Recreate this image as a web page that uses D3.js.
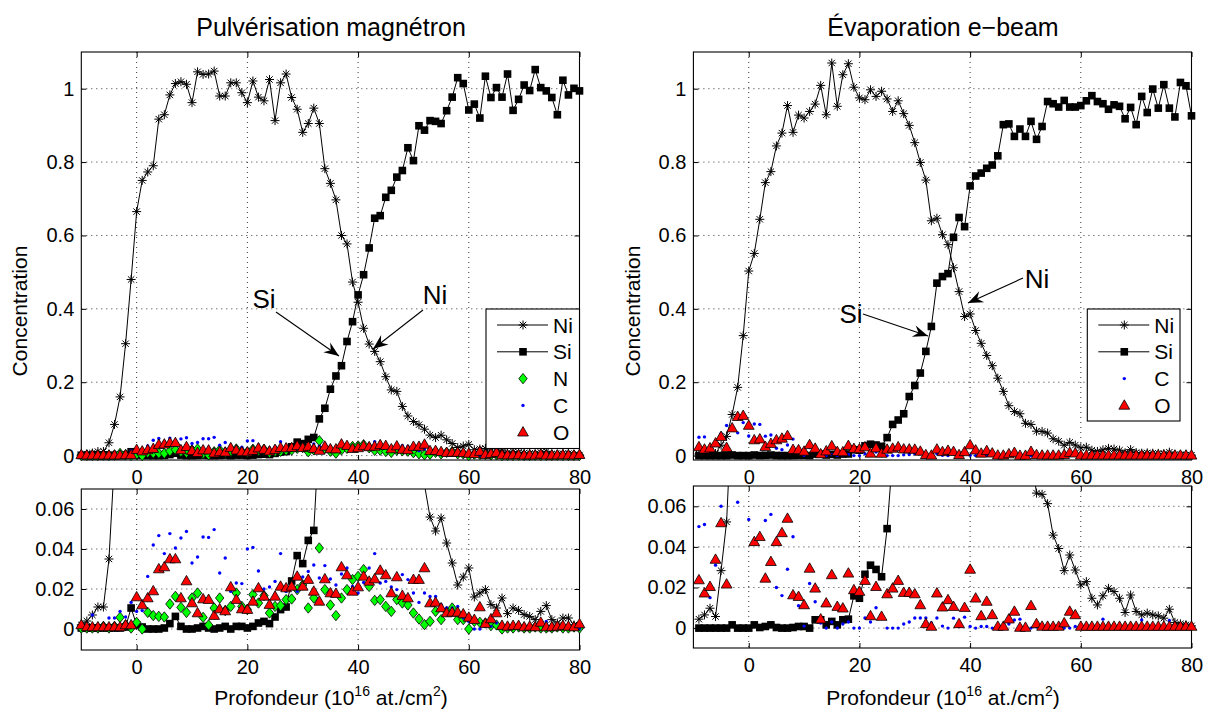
<!DOCTYPE html>
<html><head><meta charset="utf-8">
<script src="https://cdn.jsdelivr.net/npm/d3@7"></script>
<style>
body{margin:0;background:#fff}
svg{display:block}
text{font-family:"Liberation Sans",Arial,Helvetica,sans-serif;fill:#000}
</style>
</head><body>
<svg id="chart" width="1211" height="715"></svg>
<script>
// ---------------- DATA ----------------
const depthL = [-10,-9,-8,-7,-6,-5,-4,-3,-2,-1,0,1,2,3,4,5,6,7,8,9,10,11,12,13,14,15,16,17,18,19,20,21,22,23,24,25,26,27,28,29,30,31,32,33,34,35,36,37,38,39,40,41,42,43,44,45,46,47,48,49,50,51,52,53,54,55,56,57,58,59,60,61,62,63,64,65,66,67,68,69,70,71,72,73,74,75,76,77,78,79,80];
const niL = [0.002,0.004,0.007,0.011,0.011,0.035,0.085,0.16,0.305,0.48,
0.665,0.75,0.773,0.79,0.917,0.929,0.983,1.014,1.019,1.012,
0.962,1.046,1.039,1.04,1.048,0.98,0.98,1.016,1.016,0.989,
0.962,1.021,0.977,0.967,1.025,0.913,1.016,1.04,0.976,0.944,
0.881,0.905,0.947,0.905,0.782,0.742,0.697,0.6,0.577,0.473,
0.418,0.347,0.304,0.284,0.256,0.215,0.179,0.175,0.134,0.108,
0.093,0.084,0.072,0.056,0.049,0.0555,0.043,0.033,0.022,0.026,
0.0305,0.016,0.018,0.0197,0.0122,0.0105,0.0155,0.0077,0.0105,0.0093,
0.0072,0.0063,0.0047,0.0088,0.0117,0.0047,0.003,0.0055,0.0055,0.002,0.0013];
const siL = [0.0005,0.0005,0.0005,0.0005,0.0005,0.0005,0.0005,0.0005,0.001,0.0105,
0.002,0.001,0,0,0,0.0005,0.0027,0.0063,0.0013,0,
0,0.0005,0.0013,0.0005,0,0.0005,0.0013,0,0.0013,0.0013,
0.0005,0.0013,0.003,0.0038,0.0027,0.006,0.0097,0.011,0.024,0.0367,
0.0327,0.0443,0.0493,0.1,0.129,0.181,0.217,0.245,0.311,0.365,
0.438,0.493,0.566,0.647,0.654,0.704,0.723,0.759,0.777,0.839,
0.804,0.899,0.887,0.913,0.911,0.905,0.94,0.977,1.03,1.014,
0.942,0.958,0.92,1.034,0.976,1.003,0.977,1.04,0.941,0.971,
1.01,0.995,1.052,1.003,0.994,0.976,0.929,1.023,0.983,1.001,0.994];
const nL = [0.0005,0.0005,0.0005,0.0005,0.0013,0.0005,0.0013,0.0058,0.002,0.0005,
0.0033,0,0.0083,0.0067,0.0063,0.006,0.0125,0.0163,0.0108,0.0083,
0.0155,0.018,0.0058,0.002,0.0105,0.0155,0.0092,0.0113,0.018,0.0113,
0.0097,0.0172,0.013,0.0167,0.008,0.0113,0.0117,0.0147,0.015,0.0197,
0.022,0.0105,0.0155,0.0405,0.0197,0.012,0.0067,0.0155,0.0197,0.0247,
0.0263,0.0297,0.0213,0.0143,0.0147,0.0113,0.0088,0.0147,0.013,0.012,
0.008,0.005,0.0022,0.0038,0.0088,0.0047,0.0088,0.0105,0.0047,0.0047,
0,0.0038,0.0033,0.003,0.0017,0.002,0,0.0005,0.0005,0.001,
0.0005,0.0005,0.001,0.0005,0.0005,0.0005,0.001,0.0005,0.0005,0.001,0.0005];
const cL = [0.001,0.002,0.007,0.002,0.002,0.0055,0.0055,0.0088,0.006,0.0133,
0.0088,0.0092,0.0263,0.042,0.0467,0.0377,0.0477,0.0405,0.0455,0.0488,
0.033,0.036,0.046,0.0458,0.0497,0.028,0.0355,0.0188,0.023,0.0227,
0.04,0.0408,0.029,0.02,0.021,0.0238,0.0377,0.0188,0.0213,0.0188,
0.026,0.0288,0.032,0.0255,0.0317,0.025,0.022,0.0275,0.0305,0.0213,
0.018,0.0233,0.0305,0.0377,0.023,0.0238,0.021,0.0197,0.0272,0.0247,
0.018,0.0133,0.018,0.0163,0.0163,0.0122,0.0105,0.0105,0.0113,0.0055,
0.0038,0,0,0.002,0.0013,0.003,0.0005,0,0.0013,0.0013,
0.0005,0.0005,0.0005,0.0033,0.0038,0.0013,0.0005,0.0013,0.0005,0.0005,0];
const oL = [0.002,0.001,0.001,0.001,0.001,0.001,0.001,0.001,0.002,0.002,
0.016,0.012,0.0155,0.019,0.03,0.031,0.035,0.035,0.0155,0.024,
0.013,0.008,0.015,0.0147,0.0067,0.01,0.009,0.021,0.0147,0.01,
0.0097,0.0138,0.0205,0.0163,0.0122,0.0163,0.0213,0.0205,0.0213,0.0263,
0.0213,0.0247,0.0188,0.0138,0.025,0.018,0.0177,0.031,0.027,0.0188,
0.021,0.0263,0.0238,0.025,0.0293,0.027,0.018,0.026,0.0167,0.0155,
0.0247,0.0247,0.0305,0.013,0.0133,0.0105,0.008,0.0083,0.0083,0.0075,
0.0058,0.0047,0.011,0.0027,0.005,0.008,0.0017,0.0013,0.0017,0.0017,
0.001,0.0013,0.001,0.0033,0.001,0.001,0.0013,0.0017,0.0013,0.001,0.0025];

const depthR = [-9,-8,-7,-6,-5,-4,-3,-2,-1,0,1,2,3,4,5,6,7,8,9,10,11,12,13,14,15,16,17,18,19,20,21,22,23,24,25,26,27,28,29,30,31,32,33,34,35,36,37,38,39,40,41,42,43,44,45,46,47,48,49,50,51,52,53,54,55,56,57,58,59,60,61,62,63,64,65,66,67,68,69,70,71,72,73,74,75,76,77,78,79,80];
const niR = [0.0044,0.0065,0.0098,0.0057,0.0283,0.0523,0.112,0.186,0.327,0.503,
0.551,0.644,0.744,0.774,0.844,0.879,0.954,0.881,0.928,0.92,
0.938,0.958,1.009,0.929,1.07,0.952,1.038,1.068,1.004,0.975,
0.97,0.997,0.979,0.993,0.972,0.938,0.967,0.932,0.9,0.853,
0.799,0.751,0.64,0.647,0.602,0.575,0.512,0.447,0.379,0.386,
0.341,0.306,0.273,0.245,0.211,0.175,0.136,0.12,0.114,0.088,
0.085,0.0665,0.0659,0.0613,0.0458,0.0392,0.0283,0.036,0.0286,0.0213,
0.0229,0.0147,0.0114,0.0159,0.0196,0.018,0.0147,0.0077,0.0163,0.0082,
0.0065,0.0074,0.0065,0.006,0.0049,0.0093,0.0028,0.0021,0.0016,0.0011];
const siR = [0,0,0,0,0,0,0.0016,0,0,0,
0.0016,0.0003,0.0008,0.0016,0.0003,0,0,0.0003,0.0008,0.0008,
0,0.0041,0.0041,0.0016,0.0033,0.0016,0.0041,0.0044,0.0159,0.0147,
0.0265,0.031,0.0289,0.0253,0.049,0.085,0.097,0.114,0.161,0.191,
0.225,0.284,0.352,0.47,0.488,0.496,0.595,0.649,0.624,0.735,
0.762,0.77,0.783,0.792,0.817,0.902,0.904,0.87,0.89,0.87,
0.911,0.862,0.897,0.965,0.959,0.95,0.968,0.95,0.95,0.954,
0.967,0.981,0.965,0.959,0.944,0.956,0.952,0.918,0.949,0.902,
0.979,0.935,0.999,0.947,1.011,0.947,0.923,1.017,1.008,0.926];
const cR = [0.05,0.051,0.015,0.031,0.06,0.082,0.075,0.062,0.09,0.0535,
0.086,0.085,0.053,0.056,0.02,0.016,0.029,0.045,0.011,0.001,
0.022,0.013,0.0025,0,0.003,0,0.002,0.003,0,0,
0.005,0.003,0.01,0.006,0,0,0,0.002,0.003,0.005,
0.005,0.005,0.0025,0.005,0.001,0,0.0049,0.0008,0.0054,0.0008,
0,0.0008,0.0008,0,0.0005,0,0.002,0.004,0.0044,0,
0,0.0005,0,0,0,0.0005,0,0,0.0008,0,
0,0,0,0.0044,0,0,0,0,0,0,
0.004,0,0,0,0,0.0038,0,0,0,0];
const oR = [0.0237,0.0172,0.0204,0.0338,0.0518,0.0216,0.075,0.106,0.109,0.082,
0.0425,0.045,0.0245,0.0327,0.0425,0.0469,0.054,0.0163,0.0155,0.0114,
0.0294,0.0196,0.0044,0.0123,0.0262,0.0106,0.0098,0.027,0.0188,0.018,
0.0234,0.006,0.0204,0.0057,0.0168,0.0196,0.0234,0.0175,0.0175,0.0168,
0.0114,0.0021,0.0008,0.0172,0.0103,0.0139,0.0106,0.0021,0.0101,0.0289,
0.0147,0.006,0.0131,0.0065,0.0008,0.0008,0.0044,0.0082,0.0003,0.0003,
0.011,0.0021,0.0008,0.0008,0.0008,0.0008,0.0025,0.0082,0.0065,0.0008,
0.0008,0.0008,0.0008,0.0008,0.0008,0.0008,0.0008,0.0008,0.0008,0.0008,
0.0008,0.0008,0.0008,0.0008,0.0008,0.0008,0.0008,0.0008,0.0008,0.0008];

const xTicks = [0,20,40,60,80];
const xTickLabels = ["0","20","40","60","80"];
const yTicksTop = [0,0.2,0.4,0.6,0.8,1];
const yTickLabelsTop = ["0","0.2","0.4","0.6","0.8","1"];
const yTicksBot = [0,0.02,0.04,0.06];
const yTickLabelsBot = ["0","0.02","0.04","0.06"];
const titles = ["Pulvérisation magnétron","Évaporation e\u2212beam"];
const yLabel = "Concentration";
const legendL = ["Ni","Si","N","C","O"];
const legendR = ["Ni","Si","C","O"];

// ---------------- DRAWING ----------------
const svg = d3.select("#chart");
const TICK_FONT = 20;
let clipN = 0;

const markers = {
  star: (g) => g.append("path").attr("d","M-4.5,0L4.5,0M0,-4.5L0,4.5M-3.2,-3.2L3.2,3.2M-3.2,3.2L3.2,-3.2")
      .attr("stroke","#000").attr("stroke-width",1).attr("fill","none"),
  square: (g) => g.append("rect").attr("x",-3.8).attr("y",-3.8).attr("width",7.6).attr("height",7.6)
      .attr("fill","#000"),
  diamond: (g) => g.append("path").attr("d","M0,-5.2L4.2,0L0,5.2L-4.2,0Z")
      .attr("fill","#00ff00").attr("stroke","#000").attr("stroke-width",0.8),
  dot: (g) => g.append("circle").attr("r",1.7).attr("fill","#0000ff"),
  tri: (g) => g.append("path").attr("d","M0,-5.6L5.4,3.8L-5.4,3.8Z")
      .attr("fill","#ff0000").attr("stroke","#000").attr("stroke-width",0.8)
};

function drawAxes(xr, yr, yd, yTicks, yLabels, depth, series) {
  const x = d3.scaleLinear().domain([-10,80]).range(xr);
  const y = d3.scaleLinear().domain(yd).range(yr);
  const [x0,x1] = xr; const [yb,yt] = yr;
  const g = svg.append("g");
  const id = "clip" + (clipN++);
  g.append("clipPath").attr("id",id).append("rect")
    .attr("x",x0).attr("y",yt).attr("width",x1-x0).attr("height",yb-yt);

  // grid
  const grid = g.append("g").attr("stroke","#000").attr("stroke-width",0.8).attr("stroke-dasharray","1,4");
  xTicks.forEach(v => grid.append("line").attr("x1",x(v)).attr("x2",x(v)).attr("y1",yt).attr("y2",yb));
  yTicks.forEach(v => grid.append("line").attr("y1",y(v)).attr("y2",y(v)).attr("x1",x0).attr("x2",x1));

  // axes (ticks inward)
  const ax = (gen, tx, ty) => {
    const a = g.append("g").attr("transform",`translate(${tx},${ty})`).call(gen);
    a.select(".domain").remove();
    a.selectAll("line").attr("stroke","#000");
    a.selectAll("text").attr("font-size",TICK_FONT).attr("font-family","Liberation Sans, Arial, sans-serif").attr("fill","#000");
    return a;
  };
  ax(d3.axisBottom(x).tickValues(xTicks).tickFormat((d,i)=>xTickLabels[i]).tickSizeInner(-5).tickSizeOuter(0).tickPadding(10), 0, yb);
  ax(d3.axisTop(x).tickValues(xTicks).tickFormat("").tickSizeInner(-5).tickSizeOuter(0), 0, yt);
  ax(d3.axisLeft(y).tickValues(yTicks).tickFormat((d,i)=>yLabels[i]).tickSizeInner(-5).tickSizeOuter(0).tickPadding(7), x0, 0);
  ax(d3.axisRight(y).tickValues(yTicks).tickFormat("").tickSizeInner(-5).tickSizeOuter(0), x1, 0);

  g.append("rect").attr("x",x0).attr("y",yt).attr("width",x1-x0).attr("height",yb-yt)
    .attr("fill","none").attr("stroke","#000").attr("stroke-width",1.1);

  // series
  series.forEach(s => {
    const pts = depth.map((d,i)=>[d, s.values[i]]);
    if (s.line) {
      g.append("path").attr("clip-path",`url(#${id})`)
        .attr("d", d3.line().x(p=>x(p[0])).y(p=>y(p[1]))(pts))
        .attr("fill","none").attr("stroke","#000").attr("stroke-width",1);
    }
    const mg = g.append("g");
    pts.filter(p => p[1] >= yd[0] && p[1] <= yd[1]).forEach(p => {
      const m = mg.append("g").attr("transform",`translate(${x(p[0])},${y(p[1])})`);
      markers[s.marker](m);
    });
  });
  return {x, y};
}

function arrow(x1,y1,x2,y2) {
  svg.append("line").attr("x1",x1).attr("y1",y1).attr("x2",x2).attr("y2",y2)
    .attr("stroke","#000").attr("stroke-width",1.1);
  const ang = Math.atan2(y2-y1, x2-x1);
  const L = 15, W = 6, N = 10;
  const c = Math.cos(ang), s = Math.sin(ang);
  const bx = x2 - L*c, by = y2 - L*s;
  const nx = x2 - N*c, ny = y2 - N*s;
  const p = [[x2,y2],[bx - W*s, by + W*c],[nx,ny],[bx + W*s, by - W*c]];
  svg.append("path").attr("d","M"+p.map(q=>q.join(",")).join("L")+"Z").attr("fill","#000");
}

function legend(x0, y0, w, h, names, markerList, lines) {
  const g = svg.append("g");
  g.append("rect").attr("x",x0).attr("y",y0).attr("width",w).attr("height",h)
    .attr("fill","#fff").attr("stroke","#000").attr("stroke-width",1.1);
  names.forEach((n,i) => {
    const cy = y0 + 16 + i*26.8;
    if (lines[i]) g.append("line").attr("x1",x0+11).attr("x2",x0+62).attr("y1",cy).attr("y2",cy)
      .attr("stroke","#000").attr("stroke-width",1);
    const m = g.append("g").attr("transform",`translate(${x0+37},${cy})`);
    markers[markerList[i]](m);
    g.append("text").attr("x",x0+67).attr("y",cy).attr("dy","0.36em").attr("font-size",21).text(n);
  });
}

function xLabel(cx) {
  const t = svg.append("text").attr("x",cx).attr("y",705).attr("text-anchor","middle").attr("font-size",21);
  t.append("tspan").text("Profondeur (10");
  t.append("tspan").attr("dy",-9).attr("font-size",14).text("16");
  t.append("tspan").attr("dy",9).text(" at./cm");
  t.append("tspan").attr("dy",-9).attr("font-size",14).text("2");
  t.append("tspan").attr("dy",9).text(")");
}

// Left panels
const sL = [
  {values:niL, line:true, marker:"star"},
  {values:siL, line:true, marker:"square"},
  {values:nL, line:false, marker:"diamond"},
  {values:cL, line:false, marker:"dot"},
  {values:oL, line:false, marker:"tri"}
];
const sR = [
  {values:niR, line:true, marker:"star"},
  {values:siR, line:true, marker:"square"},
  {values:cR, line:false, marker:"dot"},
  {values:oR, line:false, marker:"tri"}
];
drawAxes([81.3,579.5],[460,52],[-0.012,1.1],yTicksTop,yTickLabelsTop,depthL,sL);
drawAxes([81.3,579.5],[650,489],[-0.0105,0.07],yTicksBot,yTickLabelsBot,depthL,sL);
drawAxes([693.4,1191.5],[460,52],[-0.012,1.1],yTicksTop,yTickLabelsTop,depthR,sR);
drawAxes([693.4,1191.5],[648,486],[-0.0098,0.07],yTicksBot,yTickLabelsBot,depthR,sR);

legend(486,309,93.5,139.5,legendL,["star","square","diamond","dot","tri"],[true,true,false,false,false]);
legend(1087.3,309,92.7,112,legendR,["star","square","dot","tri"],[true,true,false,false]);

// titles
svg.append("text").attr("x",331).attr("y",36).attr("text-anchor","middle").attr("font-size",25).text(titles[0]);
svg.append("text").attr("x",943).attr("y",36).attr("text-anchor","middle").attr("font-size",25).text(titles[1]);
// y labels
svg.append("text").attr("transform","translate(27,311) rotate(-90)").attr("text-anchor","middle").attr("font-size",21).text(yLabel);
svg.append("text").attr("transform","translate(640,311) rotate(-90)").attr("text-anchor","middle").attr("font-size",21).text(yLabel);
xLabel(331); xLabel(943);

// annotations
svg.append("text").attr("x",264).attr("y",308).attr("text-anchor","middle").attr("font-size",26).text("Si");
arrow(276,312,339,356);
svg.append("text").attr("x",435).attr("y",304).attr("text-anchor","middle").attr("font-size",26).text("Ni");
arrow(423,310,373,349);
svg.append("text").attr("x",851).attr("y",323).attr("text-anchor","middle").attr("font-size",26).text("Si");
arrow(863,314,928,336);
svg.append("text").attr("x",1037).attr("y",288).attr("text-anchor","middle").attr("font-size",26).text("Ni");
arrow(1023,278,968,303);
</script>
</body></html>
